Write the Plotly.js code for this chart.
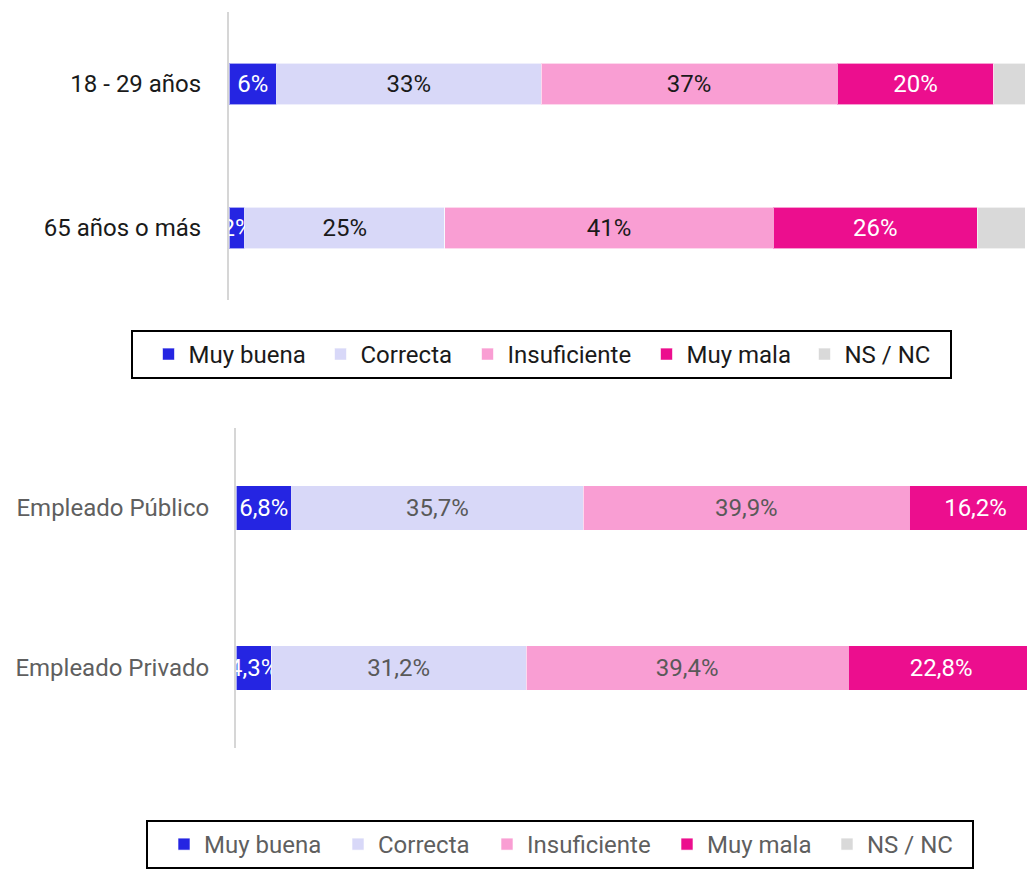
<!DOCTYPE html>
<html>
<head>
<meta charset="utf-8">
<script src="https://cdn.plot.ly/plotly-3.0.1.min.js"></script>
<style>
html,body{margin:0;padding:0;background:#fff;overflow:hidden;}
#chart{width:1027px;height:869px;}
</style>
</head>
<body>
<div id="chart"></div>
<script>
// ---- data ----
const seriesNames = ['Muy buena', 'Correcta', 'Insuficiente', 'Muy mala', 'NS / NC'];
const seriesColors = ['#2525E2', '#D8D8F8', '#F99ED3', '#EC0E8E', '#D9D9D9'];

const topCategories = ['18 - 29 años', '65 años o más'];
const topMuyBuena = [6.0, 2.0];
const topCorrecta = [33.2, 25.1];
const topInsuficiente = [37.2, 41.3];
const topMuyMala = [19.7, 25.6];
const topNSNC = [3.9, 6.0];

const botCategories = ['Empleado Público', 'Empleado Privado'];
const botMuyBuena = [6.8, 4.3];
const botCorrecta = [35.7, 31.2];
const botInsuficiente = [39.9, 39.4];
const botMuyMala = [16.2, 22.8];
const botNSNC = [1.4, 2.3];

// ---- build ----
const W = 1027, H = 869;
const topValues = [topMuyBuena, topCorrecta, topInsuficiente, topMuyMala, topNSNC];
const botValues = [botMuyBuena, botCorrecta, botInsuficiente, botMuyMala, botNSNC];
const topTextColors = ['#ffffff', '#1a1a1a', '#1a1a1a', '#ffffff', '#1a1a1a'];
const botTextColors = ['#ffffff', '#595959', '#595959', '#ffffff', '#595959'];
const topLegendWidths = [111, 86, 118, 97, 100];
const botLegendWidths = [113, 88, 119, 99, 100];
const FONT = 'Roboto, "Noto Sans", sans-serif';

const traces = [];
seriesNames.forEach((name, i) => {
  traces.push({
    type: 'bar', orientation: 'h', name: name,
    x: topValues[i], y: topCategories,
    xaxis: 'x', yaxis: 'y', legend: 'legend', legendwidth: topLegendWidths[i],
    marker: {color: seriesColors[i], line: {color: 'rgba(255,255,255,0.6)', width: 1}},
    texttemplate: i === 4 ? '' : '%{x:.0f}%',
    textposition: 'inside', insidetextanchor: 'middle', constraintext: 'none', textangle: 0,
    textfont: {family: FONT, size: 24, color: topTextColors[i]},
    hoverinfo: 'skip', width: 0.285
  });
});
seriesNames.forEach((name, i) => {
  traces.push({
    type: 'bar', orientation: 'h', name: name,
    x: botValues[i], y: botCategories,
    xaxis: 'x2', yaxis: 'y2', legend: 'legend2', legendwidth: botLegendWidths[i],
    marker: {color: seriesColors[i], line: {color: 'rgba(255,255,255,0.6)', width: 1}},
    texttemplate: i === 4 ? '' : '%{x:.1f}%',
    textposition: 'inside', insidetextanchor: 'middle', constraintext: 'none', textangle: 0,
    textfont: {family: FONT, size: 24, color: botTextColors[i]},
    hoverinfo: 'skip', width: 0.28
  });
});

const layout = {
  width: W, height: H,
  margin: {l: 0, r: 0, t: 0, b: 0},
  paper_bgcolor: '#ffffff', plot_bgcolor: '#ffffff',
  barmode: 'stack', separators: ',.',
  font: {family: FONT, size: 24, color: '#1a1a1a'},
  showlegend: true,
  xaxis: {domain: [229 / W, 1025 / W], range: [0, 100], anchor: 'y',
    showgrid: false, zeroline: false, showticklabels: false, showline: false, fixedrange: true},
  yaxis: {domain: [1 - 300 / H, 1 - 12 / H], anchor: 'x', autorange: 'reversed',
    showgrid: false, zeroline: false, showline: true, linecolor: '#d6d6d6', linewidth: 2,
    ticks: 'outside', ticklen: 21, tickcolor: 'rgba(0,0,0,0)',
    tickfont: {family: FONT, size: 24, color: '#1a1a1a'}, automargin: false},
  xaxis2: {domain: [236 / W, 1], range: [0, 96.8], anchor: 'y2',
    showgrid: false, zeroline: false, showticklabels: false, showline: false, fixedrange: true},
  yaxis2: {domain: [1 - 748 / H, 1 - 428 / H], anchor: 'x2', autorange: 'reversed',
    showgrid: false, zeroline: false, showline: true, linecolor: '#d6d6d6', linewidth: 2,
    ticks: 'outside', ticklen: 20, tickcolor: 'rgba(0,0,0,0)',
    tickfont: {family: FONT, size: 24, color: '#5f5f5f'}, automargin: false},
  legend: {orientation: 'h', x: 541 / W, xanchor: 'center', y: 1 - 330 / H, yanchor: 'top',
    indentation: 16,
    bordercolor: '#000000', borderwidth: 2, bgcolor: '#ffffff', traceorder: 'normal',
    font: {family: FONT, size: 24, color: '#1a1a1a'}},
  legend2: {orientation: 'h', x: 560 / W, xanchor: 'center', y: 1 - 820 / H, yanchor: 'top',
    indentation: 16,
    bordercolor: '#000000', borderwidth: 2, bgcolor: '#ffffff', traceorder: 'normal',
    font: {family: FONT, size: 24, color: '#5f5f5f'}}
};

Plotly.newPlot('chart', traces, layout, {displayModeBar: false, staticPlot: true});
</script>
</body>
</html>
